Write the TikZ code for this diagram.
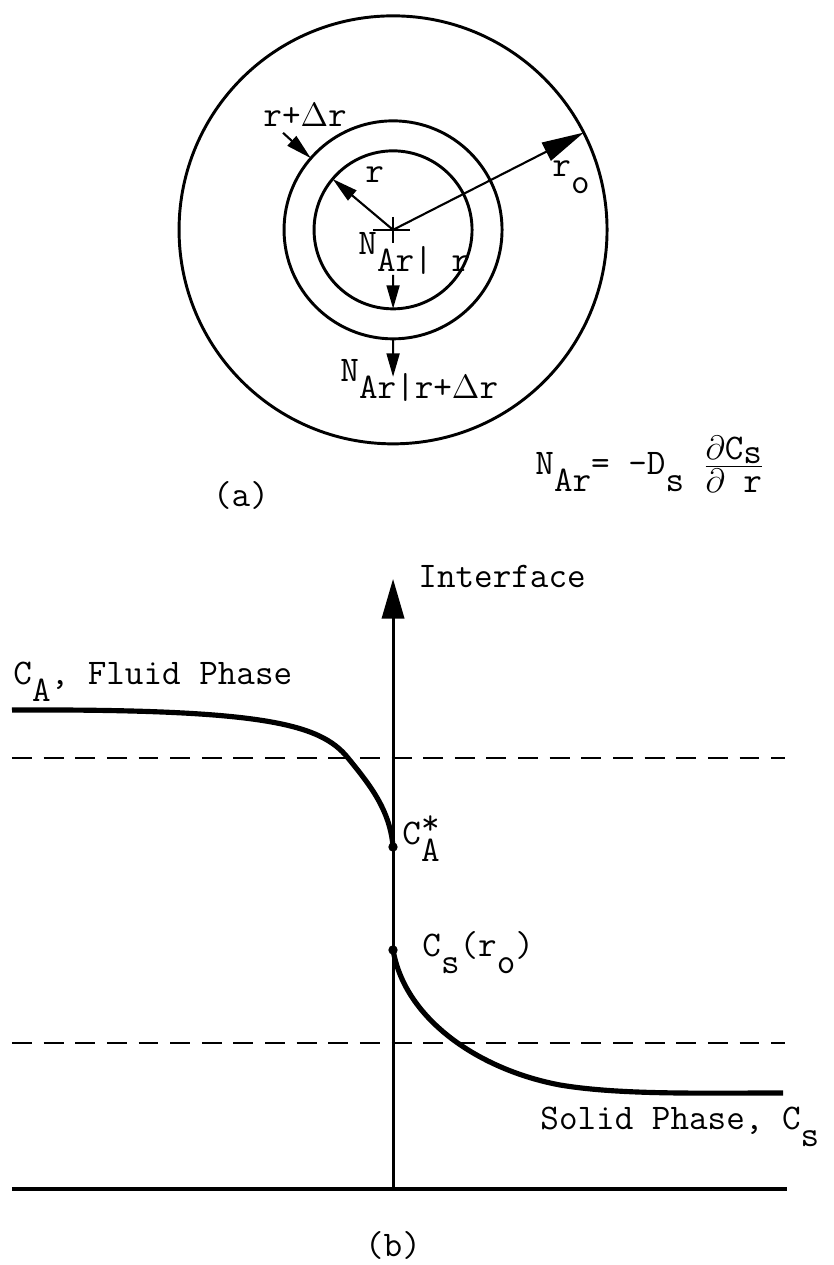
\documentclass[tikz,border=0pt]{standalone}
\usepackage{amsmath}
\usetikzlibrary{arrows.meta}
\tikzset{circ/.style = {fill, circle, inner sep = 0, minimum size = 4pt}}
\tikzset{lbl/.style = {inner sep = 0, anchor = base west}}
\tikzset{ring/.style = {line width = 1.25pt}}
\tikzset{prof/.style = {line width = 2.2pt}}
\tikzset{lvl/.style = {line width = 0.9pt, dash pattern = on 8.5pt off 5pt}}
\tikzset{rad/.style = {line width = 0.9pt, -{Triangle[length = 11pt, width = 5.5pt]}}}
\tikzset{flux/.style = {line width = 0.9pt, -{Triangle[length = 10pt, width = 5.5pt]}}}
\newcommand{\lowr}[1]{\raisebox{-0.45em}{#1}}

\begin{document}
\begin{tikzpicture}[scale=1.5, font=\fontsize{15.4}{18}\selectfont\ttfamily]
      \useasboundingbox (0, 0) rectangle (8.33, 12.65);
      % (a) the sphere
      \coordinate (O) at (3.93, 10.35);
      \draw [ring] (O) circle [radius = 2.14];
      \draw [ring] (O) circle [radius = 1.09];
      \draw [ring] (O) circle [radius = 0.79];
      \draw [line width = 0.9pt] (3.73, 10.35) -- (4.10, 10.35);
      \draw [line width = 0.9pt] (3.93, 10.48) -- (3.93, 10.22);
      \path (O) ++(140:0.79) coordinate (rin);
      \path (O) ++(27:2.14) coordinate (rout);
      \path (O) ++(139:1.09) coordinate (rmid);
      \path (O) ++(270:0.79) coordinate (bin);
      \path (O) ++(270:1.09) coordinate (bmid);
      \coordinate (dr) at (2.83, 11.32);
      \coordinate (fin) at (3.93, 9.90);
      \coordinate (fout) at (3.93, 8.88);
      \draw [rad] (O) -- (rin);
      \draw [line width = 0.9pt, -{Triangle[length = 18pt, width = 8.5pt]}] (O) -- (rout);
      \draw [rad] (dr) -- (rmid);
      \draw [flux] (fin) -- (bin);
      \draw [flux] (bmid) -- (fout);
      \node [lbl] (rdr) at (2.63, 11.38) {r+$\Delta$r};
      \node [lbl] (rr) at (3.65, 10.82) {r};
      \node [lbl] (ro) at (5.52, 10.88) {r\lowr{o}};
      \node [lbl] (nr) at (3.58, 10.10) {N\lowr{Ar| r}};
      \node [lbl] (nrdr) at (3.40, 8.83) {N\lowr{Ar|r+$\Delta$r}};
      \node [lbl] (law) at (5.35, 7.90) {N\lowr{Ar}= -D\lowr{s} 
        $\genfrac{}{}{0.7pt}{}{\mbox{$\partial$C\raisebox{-0.12em}{s}}}{\mbox{$\partial$ r}}$};
      \node (capa) at (2.41, 7.70) {(a)};
      % (b) the interface
      \coordinate (base) at (3.93, 0.76);
      \coordinate (top) at (3.93, 6.86);
      \draw [line width = 1.3pt, -{Triangle[length = 17pt, width = 9.5pt]}] (base) -- (top);
      \draw [line width = 1.8pt] (0.12, 0.76) -- (7.87, 0.76);
      \draw [lvl] (0.12, 5.07) -- (7.85, 5.07);
      \draw [lvl] (0.12, 2.22) -- (7.85, 2.22);
      \node [circ] (cstar) at (3.93, 4.18) {};
      \node [circ] (csro) at (3.93, 3.15) {};
      \draw [prof] (0.12, 5.55) .. controls (2.60, 5.56) and (3.20, 5.42) .. (3.48, 5.07)
            .. controls (3.70, 4.80) and (3.90, 4.55) .. (cstar.center);
      \draw [prof] (csro.center) .. controls (4.05, 2.45) and (4.80, 1.95) .. (5.60, 1.80)
            .. controls (6.20, 1.70) and (7.00, 1.72) .. (7.83, 1.72);
      \node [lbl] (intf) at (4.18, 6.77) {Interface};
      \node [lbl] (fluid) at (0.13, 5.80) {C\lowr{A}, Fluid Phase};
      \node [lbl] (castar) at (4.02, 4.20) {C\rlap{\raisebox{0.3em}{*}}\lowr{A}};
      \node [lbl] (csr) at (4.22, 3.08) {C\lowr{s}(r\lowr{o})};
      \node [lbl] (solid) at (5.40, 1.35) {Solid Phase, C\lowr{s}};
      \node [inner sep = 0] (capb) at (3.93, 0.20) {(b)};
    \end{tikzpicture}
\end{document}
